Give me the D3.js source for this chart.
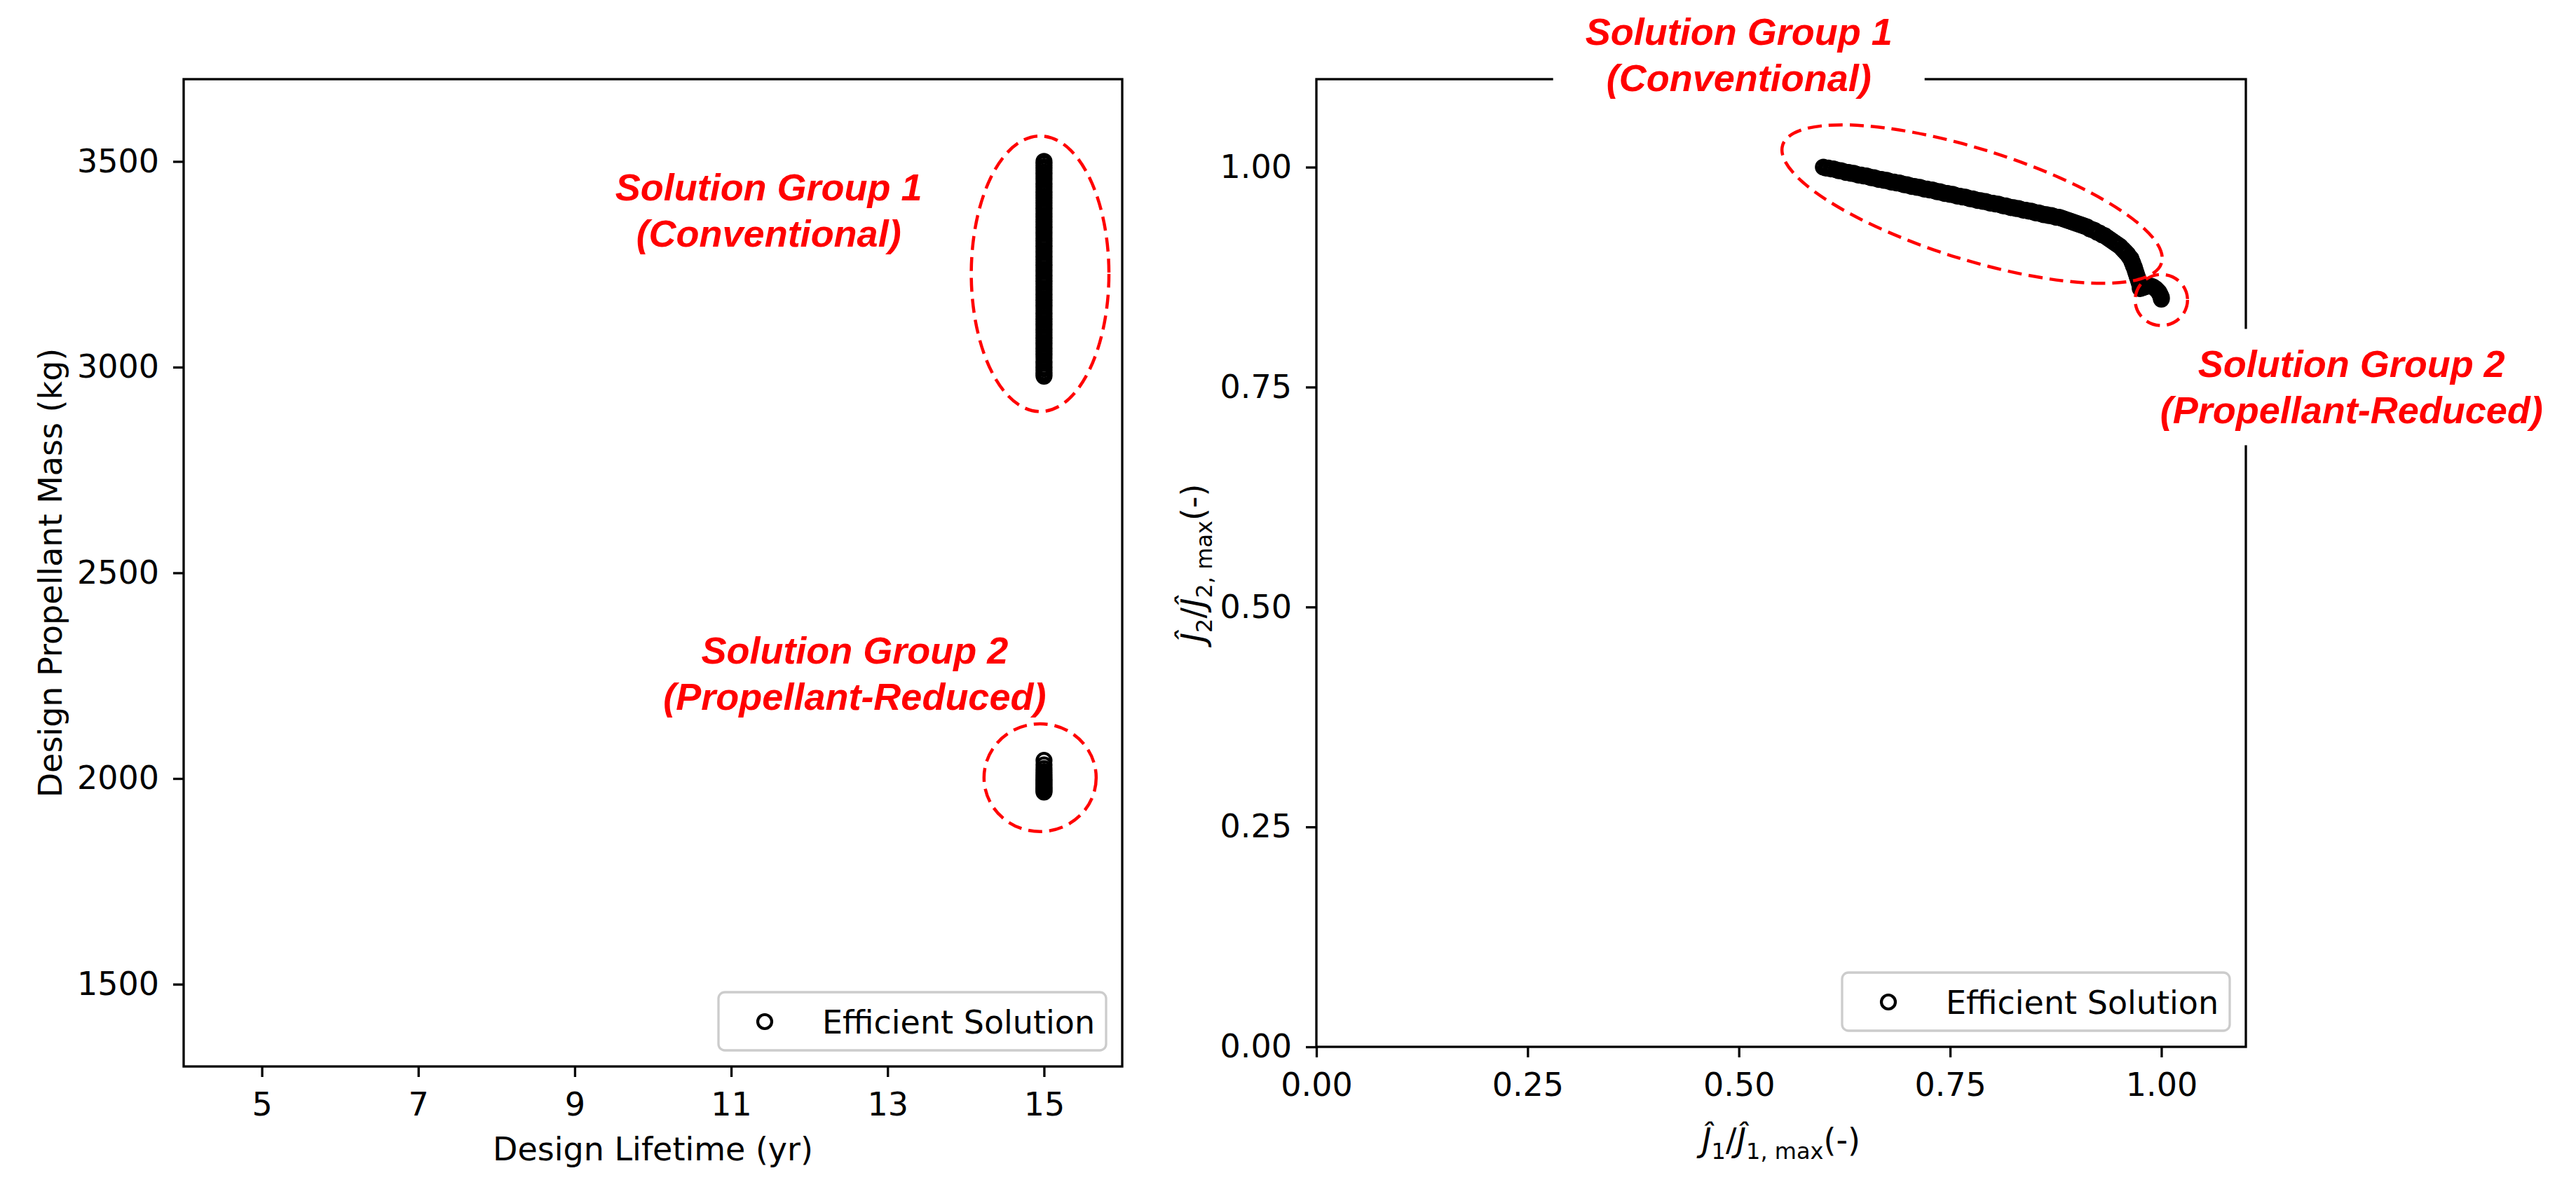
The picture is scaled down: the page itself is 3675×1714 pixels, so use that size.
<!DOCTYPE html>
<html><head><meta charset="utf-8">
<script src="https://cdn.jsdelivr.net/npm/d3@7"></script>
<style>body{margin:0;background:#fff}</style>
</head><body>
<svg id="chart" width="3675" height="1714" xmlns="http://www.w3.org/2000/svg"></svg>
<script>
// ---------------- data ----------------
const lifetimeTicks = [5, 7, 9, 11, 13, 15];
const massTicks = [1500, 2000, 2500, 3000, 3500];
const normTicks = [0, 0.25, 0.5, 0.75, 1.0];

// Left panel: design lifetime (yr) vs design propellant mass (kg)
const group1Mass = [3500, 3494, 3487, 3481, 3474, 3468, 3461, 3455, 3448, 3442, 3435, 3428, 3422, 3415, 3409,
  3402, 3396, 3389, 3383, 3376, 3369, 3363, 3356, 3350, 3343, 3337, 3330, 3324, 3317, 3310, 3304, 3297, 3291,
  3284, 3278, 3271, 3265, 3258, 3251, 3245, 3238, 3232, 3225, 3219, 3212, 3206, 3199, 3192, 3186, 3179, 3173,
  3166, 3160, 3153, 3147, 3140, 3133, 3127, 3120, 3114, 3107, 3101, 3094, 3088, 3081, 3074, 3068, 3061, 3055,
  3048, 3042, 3035, 3029, 3022, 3015, 3009, 3002, 2996, 2989, 2983, 2978];
const group1Lifetime = [15, 15, 15, 15, 15, 15, 15, 15, 15, 15, 15, 15, 15, 15, 15,
  15, 15, 15, 15, 15, 15, 15, 15, 15, 15, 15, 15, 15, 15, 15, 15, 15, 15,
  15, 15, 15, 15, 15, 15, 15, 15, 15, 15, 15, 15, 15, 15, 15, 15, 15, 15,
  15, 15, 15, 15, 15, 15, 15, 15, 15, 15, 15, 15, 15, 15, 15, 15, 15, 15,
  15, 15, 15, 15, 15, 15, 15, 15, 15, 15, 15, 15];
const group2Mass = [2044, 2033, 2024, 2017, 2011, 2006, 2001, 1997, 1993, 1989, 1985, 1981, 1977, 1974, 1970, 1967];
const group2Lifetime = [15, 15, 15, 15, 15, 15, 15, 15, 15, 15, 15, 15, 15, 15, 15, 15];

// Right panel: normalised objectives J1/J1max and J2/J2max
const group1J1 = [0.600, 0.603, 0.606, 0.609, 0.612, 0.615, 0.618, 0.621, 0.624, 0.627, 0.630, 0.633, 0.636,
  0.639, 0.642, 0.645, 0.648, 0.651, 0.654, 0.657, 0.660, 0.663, 0.666, 0.669, 0.672, 0.675, 0.678, 0.681,
  0.684, 0.687, 0.690, 0.693, 0.696, 0.699, 0.702, 0.705, 0.708, 0.711, 0.714, 0.717, 0.720, 0.723, 0.726,
  0.729, 0.732, 0.735, 0.738, 0.741, 0.744, 0.747, 0.750, 0.753, 0.756, 0.759, 0.762, 0.765, 0.768, 0.771,
  0.774, 0.777, 0.780, 0.783, 0.786, 0.789, 0.792, 0.795, 0.798, 0.801, 0.804, 0.807, 0.810, 0.813, 0.816,
  0.819, 0.822, 0.825, 0.828, 0.831, 0.834, 0.837, 0.840, 0.843, 0.846, 0.849, 0.852, 0.855, 0.858, 0.861,
  0.864, 0.867, 0.870, 0.873, 0.876, 0.879, 0.882, 0.885, 0.888, 0.891, 0.894, 0.897, 0.900, 0.903, 0.906,
  0.909, 0.912, 0.915, 0.918, 0.921, 0.924, 0.927, 0.930, 0.933, 0.936, 0.939, 0.942, 0.945, 0.948, 0.951,
  0.954, 0.956, 0.958, 0.960, 0.962, 0.964, 0.965, 0.966, 0.967, 0.968, 0.969, 0.970, 0.971, 0.972, 0.973,
  0.974, 0.975];
const group1J2 = [1.000, 0.999, 0.999, 0.998, 0.998, 0.997, 0.996, 0.996, 0.995, 0.994, 0.994, 0.993, 0.993,
  0.992, 0.991, 0.991, 0.990, 0.990, 0.989, 0.988, 0.988, 0.987, 0.986, 0.986, 0.985, 0.985, 0.984, 0.983,
  0.983, 0.982, 0.982, 0.981, 0.980, 0.980, 0.979, 0.978, 0.978, 0.977, 0.977, 0.976, 0.975, 0.975, 0.974,
  0.974, 0.973, 0.972, 0.972, 0.971, 0.970, 0.970, 0.969, 0.969, 0.968, 0.967, 0.967, 0.966, 0.966, 0.965,
  0.964, 0.964, 0.963, 0.962, 0.962, 0.961, 0.961, 0.960, 0.959, 0.959, 0.958, 0.958, 0.957, 0.956, 0.956,
  0.955, 0.954, 0.954, 0.953, 0.953, 0.952, 0.951, 0.951, 0.950, 0.950, 0.949, 0.948, 0.948, 0.947, 0.946,
  0.946, 0.945, 0.945, 0.944, 0.943, 0.943, 0.942, 0.941, 0.940, 0.939, 0.938, 0.937, 0.936, 0.935, 0.934,
  0.933, 0.932, 0.930, 0.929, 0.928, 0.926, 0.925, 0.923, 0.922, 0.920, 0.918, 0.916, 0.914, 0.912, 0.910,
  0.907, 0.905, 0.903, 0.901, 0.898, 0.896, 0.893, 0.891, 0.888, 0.886, 0.883, 0.880, 0.877, 0.874, 0.871,
  0.868, 0.864];
const group2J1 = [0.975, 0.978, 0.981, 0.984, 0.987, 0.990, 0.993, 0.995, 0.997, 0.998, 0.999, 1.000, 1.000];
const group2J2 = [0.862, 0.863, 0.864, 0.865, 0.865, 0.864, 0.862, 0.860, 0.858, 0.856, 0.854, 0.852, 0.850];

const legendLabel = "Efficient Solution";

// ---------------- layout ----------------
const svg = d3.select("#chart");
const FONT = "DejaVu Sans";
const FS = 46;
const LW = 3.3;
const L = {left: 262, right: 1601, top: 113, bottom: 1522};
const R = {left: 1878, right: 3204, top: 113, bottom: 1494};

const xL = d3.scaleLinear().domain([4, 16]).range([L.left, L.right]);
const yL = d3.scaleLinear().domain([1300, 3700]).range([L.bottom, L.top]);
const xR = d3.scaleLinear().domain([0, 1.1]).range([R.left, R.right]);
const yR = d3.scaleLinear().domain([0, 1.1]).range([R.bottom, R.top]);

svg.append("rect").attr("width", 3675).attr("height", 1714).attr("fill", "#fff");

function styleAxis(g) {
  g.attr("font-family", FONT).attr("font-size", FS);
  g.select(".domain").remove();
  g.selectAll(".tick line").attr("stroke", "#000").attr("stroke-width", LW);
  g.selectAll(".tick text").attr("fill", "#000");
}

function drawAxes(box, x, y, xt, yt, fx, fy) {
  svg.append("g").attr("transform", `translate(0,${box.bottom})`)
    .call(d3.axisBottom(x).tickValues(xt).tickSize(15).tickSizeOuter(0).tickPadding(22).tickFormat(fx))
    .call(styleAxis);
  svg.append("g").attr("transform", `translate(${box.left},0)`)
    .call(d3.axisLeft(y).tickValues(yt).tickSize(15).tickSizeOuter(0).tickPadding(20).tickFormat(fy))
    .call(styleAxis);
  svg.append("rect").attr("x", box.left).attr("y", box.top)
    .attr("width", box.right - box.left).attr("height", box.bottom - box.top)
    .attr("fill", "none").attr("stroke", "#000").attr("stroke-width", LW);
}

drawAxes(L, xL, yL, lifetimeTicks, massTicks, d3.format("d"), d3.format("d"));
drawAxes(R, xR, yR, normTicks, normTicks, d3.format(".2f"), d3.format(".2f"));

// ---------------- markers ----------------
function scatter(xs, ys, x, y) {
  svg.append("g").selectAll("circle").data(xs.map((d, i) => [d, ys[i]])).join("circle")
    .attr("cx", d => x(d[0])).attr("cy", d => y(d[1])).attr("r", 10)
    .attr("fill", "none").attr("stroke", "#000").attr("stroke-width", 4.2);
}
scatter(group1Lifetime, group1Mass, xL, yL);
scatter(group2Lifetime, group2Mass, xL, yL);
scatter(group1J1, group1J2, xR, yR);
scatter(group2J1, group2J2, xR, yR);

// ---------------- dashed ellipses ----------------
// [cx, cy, half-width, half-height, angle] in data units of the panel
const leftEllipses = [[14.95, 3227, 0.88, 335, 0], [14.95, 2002, 0.717, 131, 0]];
const rightEllipses = [[0.776, 0.958, 0.2348, 0.063, 17.3], [1.0, 0.849, 0.031, 0.029, 0]];
function ellipses(list, x, y) {
  list.forEach(e => {
    svg.append("g").attr("transform", `translate(${x(e[0])},${y(e[1])}) rotate(${e[4]})`)
      .append("ellipse").attr("rx", x(e[2]) - x(0)).attr("ry", y(0) - y(e[3]))
      .attr("fill", "none").attr("stroke", "#ff0000").attr("stroke-width", 4.5)
      .attr("stroke-dasharray", "20 10");
  });
}
ellipses(leftEllipses, xL, yL);
ellipses(rightEllipses, xR, yR);

// ---------------- annotations ----------------
const annLines1 = ["Solution Group 1", "(Conventional)"];
const annLines2 = ["Solution Group 2", "(Propellant-Reduced)"];
function annotate(lines, px, py, withBox) {
  const g = svg.append("g");
  const bg = g.append("rect").attr("fill", "#fff");
  const t = g.append("text").attr("font-family", "Liberation Sans, Arial, sans-serif")
    .attr("font-weight", "bold").attr("font-style", "italic").attr("font-size", 54)
    .attr("fill", "#ff0000").attr("text-anchor", "middle");
  lines.forEach((s, i) => {
    t.append("tspan").attr("x", px).attr("y", py - 33 + 19 + i * 66).text(s);
  });
  if (withBox) {
    const b = t.node().getBBox();
    bg.attr("x", b.x - 46).attr("y", py - 83).attr("width", b.width + 92).attr("height", 166);
  } else bg.remove();
}
annotate(annLines1, xL(11.48), yL(3381), false);
annotate(annLines2, xL(12.58), yL(2256), false);
annotate(annLines1, xR(0.5), yR(1.128), true);
annotate(annLines2, xR(1.225), yR(0.75), true);

// ---------------- legends ----------------
function legend(box) {
  const w = 553, h = 83;
  const lx = box.right - 23 - w, ly = box.bottom - 23 - h;
  const g = svg.append("g");
  g.append("rect").attr("x", lx).attr("y", ly).attr("width", w).attr("height", h).attr("rx", 9)
    .attr("fill", "#fff").attr("fill-opacity", 0.8).attr("stroke", "#cccccc").attr("stroke-width", 3.3);
  g.append("circle").attr("cx", lx + 66).attr("cy", ly + 42).attr("r", 10)
    .attr("fill", "none").attr("stroke", "#000").attr("stroke-width", 4.2);
  g.append("text").attr("x", lx + 148).attr("y", ly + 59).attr("font-family", FONT).attr("font-size", FS)
    .attr("fill", "#000").text(legendLabel);
}
legend(L);
legend(R);

// ---------------- axis labels ----------------
svg.append("text").attr("x", (L.left + L.right) / 2).attr("y", 1656).attr("text-anchor", "middle")
  .attr("font-family", FONT).attr("font-size", FS).text("Design Lifetime (yr)");
svg.append("text").attr("transform", `translate(88,${(L.top + L.bottom) / 2}) rotate(-90)`)
  .attr("text-anchor", "middle").attr("font-family", FONT).attr("font-size", FS)
  .text("Design Propellant Mass (kg)");

function mathLabel(t, idx) {
  const parts = [
    {s: "Ĵ", it: true}, {s: idx, sub: true}, {s: "/", it: false},
    {s: "Ĵ", it: true}, {s: idx + ", max", sub: true}, {s: "(-)", it: false}
  ];
  let inSub = false;
  parts.forEach(p => {
    const ts = t.append("tspan").text(p.s);
    if (p.it) ts.attr("font-style", "italic");
    if (p.sub && !inSub) { ts.attr("dy", 11).attr("font-size", 32); inSub = true; }
    else if (p.sub) { ts.attr("font-size", 32); }
    else if (!p.sub && inSub) { ts.attr("dy", -11); inSub = false; }
  });
}
const xlabR = svg.append("text").attr("x", (R.left + R.right) / 2).attr("y", 1643).attr("text-anchor", "middle")
  .attr("font-family", FONT).attr("font-size", FS);
mathLabel(xlabR, "1");
const ylabR = svg.append("text").attr("transform", `translate(1718,${(R.top + R.bottom) / 2}) rotate(-90)`)
  .attr("text-anchor", "middle").attr("font-family", FONT).attr("font-size", FS);
mathLabel(ylabR, "2");
</script>
</body></html>
